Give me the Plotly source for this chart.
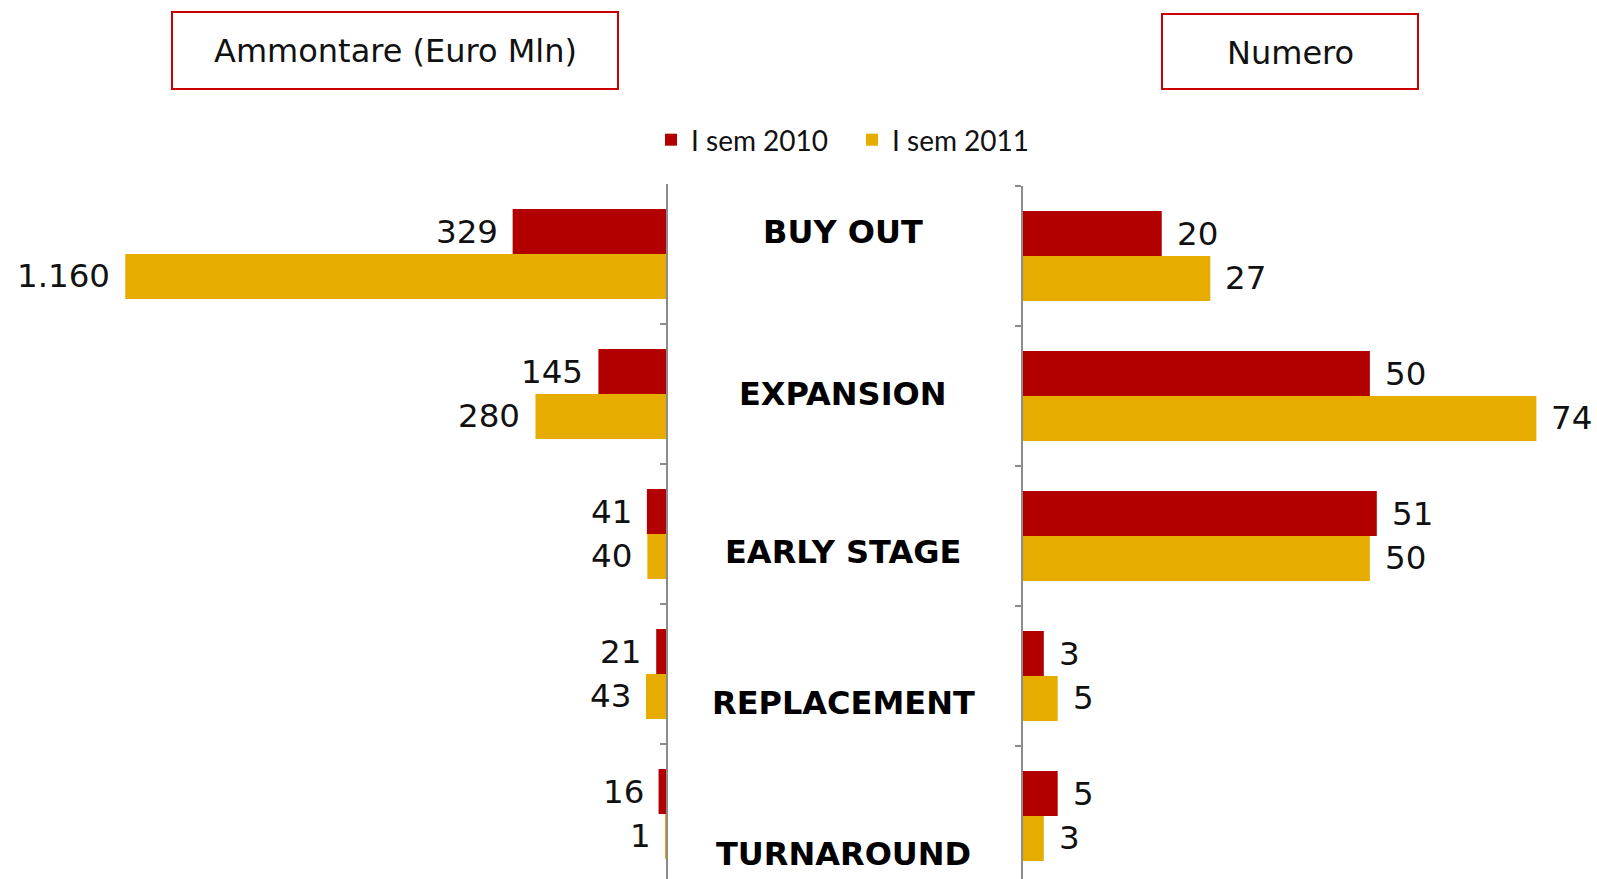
import plotly.graph_objects as go

# ---------------- data ----------------
categories = ["BUY OUT", "EXPANSION", "EARLY STAGE", "REPLACEMENT", "TURNAROUND"]
series_names = ["I sem 2010", "I sem 2011"]
amount_2010 = [329, 145, 41, 21, 16]
amount_2011 = [1160, 280, 40, 43, 1]
amount_labels_2010 = ["329", "145", "41", "21", "16"]
amount_labels_2011 = ["1.160", "280", "40", "43", "1"]
number_2010 = [20, 50, 51, 3, 5]
number_2011 = [27, 74, 50, 5, 3]
panel_titles = ["Ammontare (Euro Mln)", "Numero"]

# ---------------- style ----------------
W, H = 1597, 879
RED = "#B20000"
GOLD = "#E6AC00"
BOX_RED = "#CC0000"
AXIS_GREY = "#8C8C8C"
FONT = "DejaVu Sans, Verdana, sans-serif"
FONT_B = "DejaVu Sans, Verdana, sans-serif"
LEG_FONT = "Lato, Calibri, sans-serif"


def px(x):
    return x / W


def py(y):
    return 1 - y / H


fig = go.Figure()

# left panel (amounts, reversed axis)
fig.add_trace(go.Bar(y=categories, x=amount_2010, orientation="h", name=series_names[0],
                     marker=dict(color=RED, line=dict(width=0)), xaxis="x", yaxis="y",
                     legendrank=1))
fig.add_trace(go.Bar(y=categories, x=amount_2011, orientation="h", name=series_names[1],
                     marker=dict(color=GOLD, line=dict(width=0)), xaxis="x", yaxis="y",
                     legendrank=2))
# right panel (counts)
fig.add_trace(go.Bar(y=categories, x=number_2010, orientation="h", name=series_names[0],
                     marker=dict(color=RED, line=dict(width=0)), xaxis="x2", yaxis="y2",
                     showlegend=False))
fig.add_trace(go.Bar(y=categories, x=number_2011, orientation="h", name=series_names[1],
                     marker=dict(color=GOLD, line=dict(width=0)), xaxis="x2", yaxis="y2",
                     showlegend=False))

annotations = []
LBL_SHIFT = 22
LBL_FONT = dict(family=FONT, size=32.5, color="#111111")
for cat, v, t in zip(categories, amount_2010, amount_labels_2010):
    annotations.append(dict(x=v, y=cat, xref="x", yref="y", text=t, showarrow=False,
                            xanchor="right", yanchor="middle", xshift=-13, yshift=LBL_SHIFT,
                            font=LBL_FONT))
for cat, v, t in zip(categories, amount_2011, amount_labels_2011):
    annotations.append(dict(x=v, y=cat, xref="x", yref="y", text=t, showarrow=False,
                            xanchor="right", yanchor="middle", xshift=-13, yshift=-LBL_SHIFT,
                            font=LBL_FONT))
for cat, v in zip(categories, number_2010):
    annotations.append(dict(x=v, y=cat, xref="x2", yref="y2", text=str(v), showarrow=False,
                            xanchor="left", yanchor="middle", xshift=13, yshift=LBL_SHIFT,
                            font=LBL_FONT))
for cat, v in zip(categories, number_2011):
    annotations.append(dict(x=v, y=cat, xref="x2", yref="y2", text=str(v), showarrow=False,
                            xanchor="left", yanchor="middle", xshift=13, yshift=-LBL_SHIFT,
                            font=LBL_FONT))

# category names in the middle column
cat_label_y = [232, 394, 552, 703, 854]
for cat, yy in zip(categories, cat_label_y):
    annotations.append(dict(x=px(843), y=py(yy), xref="paper", yref="paper", text="<b>%s</b>" % cat,
                            showarrow=False, xanchor="center", yanchor="middle",
                            font=dict(family=FONT_B, size=32, color="#000000")))

# panel titles in red boxes
boxes = [(172, 12, 618, 89), (1162, 14, 1418, 89)]
shapes = []
for title, (x0, y0, x1, y1) in zip(panel_titles, boxes):
    shapes.append(dict(type="rect", xref="paper", yref="paper", x0=px(x0), x1=px(x1),
                       y0=py(y1), y1=py(y0), line=dict(color=BOX_RED, width=2),
                       fillcolor="rgba(0,0,0,0)"))
    annotations.append(dict(x=px((x0 + x1) / 2), y=py((y0 + y1) / 2 + 1), xref="paper", yref="paper",
                            text=title, showarrow=False, xanchor="center", yanchor="middle",
                            font=dict(family=FONT, size=32, color="#111111")))

axis_common = dict(showgrid=False, zeroline=False, showticklabels=False, ticks="")
yaxis_common = dict(categoryorder="array", categoryarray=categories, showgrid=False,
                    zeroline=False, showticklabels=False, showline=True, linecolor=AXIS_GREY,
                    linewidth=2, tickson="boundaries", ticklen=6, tickwidth=2, tickcolor=AXIS_GREY)

fig.update_layout(
    width=W, height=H,
    margin=dict(l=0, r=0, t=0, b=0),
    paper_bgcolor="white", plot_bgcolor="white",
    barmode="group", bargap=0.357, bargroupgap=0,
    xaxis=dict(domain=[px(60), px(666)], range=[1300, 0], **axis_common),
    xaxis2=dict(domain=[px(1023), px(1578)], range=[0, 80], anchor="y2", **axis_common),
    yaxis=dict(domain=[0, py(184)], range=[4.464, -0.5], anchor="x", side="right",
               ticks="inside", **yaxis_common),
    yaxis2=dict(domain=[0, py(186)], range=[4.45, -0.5], anchor="x2", side="left",
                ticks="outside", **yaxis_common),
    legend=dict(orientation="h", x=px(852), y=py(140), xanchor="center", yanchor="middle",
                font=dict(family=LEG_FONT, size=28, color="#111111"),
                entrywidth=156, entrywidthmode="pixels",
                bgcolor="rgba(0,0,0,0)", traceorder="normal"),
    annotations=annotations,
    shapes=shapes,
    showlegend=True,
)

fig.write_html("out.html", config={"displayModeBar": False},
               post_script="document.body.style.margin='0';document.body.style.padding='0';")
